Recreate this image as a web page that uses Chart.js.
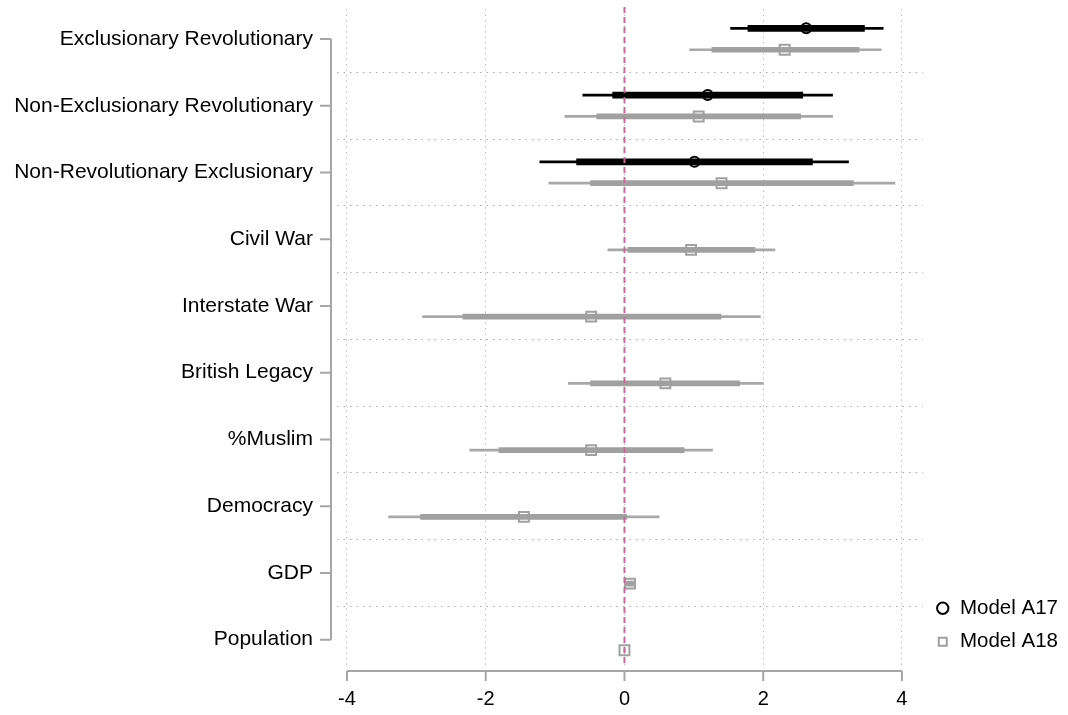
<!DOCTYPE html>
<html>
<head>
<meta charset="utf-8">
<script src="https://cdn.jsdelivr.net/npm/chart.js@4.4.1/dist/chart.umd.min.js"></script>
<style>
  html, body { margin: 0; padding: 0; background: #fff; }
</style>
</head>
<body>
<canvas id="coefChart" width="1068" height="715"></canvas>
<script>
// categories, top to bottom
const categories = ['Exclusionary Revolutionary', 'Non-Exclusionary Revolutionary', 'Non-Revolutionary Exclusionary',
    'Civil War', 'Interstate War', 'British Legacy', '%Muslim', 'Democracy', 'GDP', 'Population'];
const xTicks = [-4, -2, 0, 2, 4];
const refValue = 0;

// Model A17 (only the first three terms)
const coefA17 = [2.62, 1.20, 1.01];
const lo95A17 = [1.53, -0.60, -1.22];
const hi95A17 = [3.73, 3.00, 3.23];
const lo90A17 = [1.78, -0.17, -0.69];
const hi90A17 = [3.46, 2.57, 2.71];

// Model A18
const coefA18 = [2.31, 1.07, 1.40, 0.96, -0.48, 0.59, -0.48, -1.45, 0.08, 0.00];
const lo95A18 = [0.94, -0.86, -1.09, -0.24, -2.91, -0.81, -2.23, -3.40, 0.01, -0.01];
const hi95A18 = [3.70, 3.00, 3.90, 2.17, 1.96, 2.00, 1.27, 0.50, 0.16, 0.01];
const lo90A18 = [1.26, -0.40, -0.49, 0.05, -2.33, -0.49, -1.81, -2.94, 0.03, -0.005];
const hi90A18 = [3.38, 2.54, 3.30, 1.88, 1.39, 1.66, 0.86, 0.03, 0.13, 0.005];

const shift = 0.16; // vertical offset of each model inside a row
const family = "'Liberation Sans', Arial, sans-serif";

const points = (vals, off) => vals.map((v, i) => ({ x: v, y: i + off }));
const ranges = (lo, hi, off) => lo.map((v, i) => ({ x: [v, hi[i]], y: i + off }));

// y ticks: categories at integers, grid lines between them
const yTicks = [];
categories.forEach((c, i) => { yTicks.push(i); if (i < categories.length - 1) yTicks.push(i + 0.5); });

// axis lines only across the data range, plus zero line
const rangeFrame = {
    id: 'rangeFrame',
    afterDatasetsDraw(chart) {
        const { ctx, chartArea, scales: { x, y } } = chart;
        ctx.save();
        const x0 = x.getPixelForValue(refValue);
        ctx.strokeStyle = '#cc6699';
        ctx.lineWidth = 2;
        ctx.setLineDash([6, 4]);
        ctx.beginPath();
        ctx.moveTo(x0, chartArea.top - 2);
        ctx.lineTo(x0, chartArea.bottom);
        ctx.stroke();
        ctx.setLineDash([]);

        ctx.strokeStyle = '#a6a6a6';
        ctx.lineWidth = 2;
        ctx.beginPath();
        const ay = chartArea.bottom + 6;
        ctx.moveTo(x.getPixelForValue(xTicks[0]), ay);
        ctx.lineTo(x.getPixelForValue(xTicks[xTicks.length - 1]), ay);
        xTicks.forEach(v => {
            const px = x.getPixelForValue(v);
            ctx.moveTo(px, ay);
            ctx.lineTo(px, ay + 10);
        });
        const ax = chartArea.left - 6;
        ctx.moveTo(ax, y.getPixelForValue(0));
        ctx.lineTo(ax, y.getPixelForValue(categories.length - 1));
        categories.forEach((c, i) => {
            const py = y.getPixelForValue(i);
            ctx.moveTo(ax, py);
            ctx.lineTo(ax - 11, py);
        });
        ctx.stroke();
        ctx.restore();
    }
};

const noEdgePadding = axis => {
    axis.paddingTop = 0;
    axis.paddingBottom = 0;
    axis.paddingLeft = 0;
    axis.paddingRight = 0;
};

const config = {
    type: 'bar',
    data: {
        datasets: [
            { type: 'scatter', label: 'Model A17', data: points(coefA17, -shift),
              pointStyle: 'circle', pointRadius: 5, pointBorderWidth: 2,
              borderColor: '#000', backgroundColor: 'rgba(0,0,0,0)' },
            { type: 'scatter', label: 'Model A18', data: points(coefA18, shift),
              pointStyle: 'rect', pointRadius: 7, pointBorderWidth: 2,
              borderColor: '#a0a0a0', backgroundColor: 'rgba(0,0,0,0)' },
            { label: '90% A17', data: ranges(lo90A17, hi90A17, -shift), backgroundColor: '#000', barThickness: 6 },
            { label: '90% A18', data: ranges(lo90A18, hi90A18, shift), backgroundColor: '#a0a0a0', barThickness: 5 },
            { label: '95% A17', data: ranges(lo95A17, hi95A17, -shift), backgroundColor: '#000', barThickness: 2 },
            { label: '95% A18', data: ranges(lo95A18, hi95A18, shift), backgroundColor: '#a8a8a8', barThickness: 2 }
        ]
    },
    options: {
        responsive: false,
        animation: false,
        indexAxis: 'y',
        layout: { padding: { top: 7, right: 0, bottom: 0, left: 0 } },
        datasets: { bar: { grouped: false, borderWidth: 0, borderSkipped: false } },
        plugins: {
            tooltip: { enabled: false },
            legend: {
                position: 'right',
                align: 'end',
                fullSize: false,
                labels: {
                    filter: item => item.text.startsWith('Model'),
                    usePointStyle: true,
                    boxWidth: 14,
                    boxHeight: 8,
                    padding: 13,
                    color: '#000',
                    font: { family: family, size: 20.5 }
                }
            }
        },
        scales: {
            x: {
                type: 'linear',
                min: -4.144,
                max: 4.3,
                afterBuildTicks: axis => { axis.ticks = xTicks.map(v => ({ value: v })); },
                afterFit: axis => { axis.height = 50; noEdgePadding(axis); },
                grid: { color: '#bdbdbd', lineWidth: 1, drawTicks: false },
                border: { display: false, dash: [1.5, 4] },
                ticks: { color: '#000', font: { family: family, size: 20 }, padding: 22 }
            },
            y: {
                type: 'linear',
                reverse: true,
                offset: false,
                min: -0.45,
                max: 9.38,
                afterBuildTicks: axis => { axis.ticks = yTicks.map(v => ({ value: v })); },
                afterFit: axis => { axis.width = 337; noEdgePadding(axis); },
                grid: {
                    offset: false,
                    drawTicks: false,
                    lineWidth: 1,
                    color: c => (c.tick && !Number.isInteger(c.tick.value)) ? '#a8a8a8' : 'rgba(0,0,0,0)'
                },
                border: { display: false, dash: [1.5, 5] },
                ticks: {
                    color: '#000',
                    font: { family: family, size: 21 },
                    padding: 24,
                    autoSkip: false,
                    callback: v => Number.isInteger(v) ? categories[v] : ''
                }
            }
        }
    },
    plugins: [rangeFrame]
};

window.onload = function () {
    const ctx = document.getElementById('coefChart').getContext('2d');
    new Chart(ctx, config);
};
</script>
</body>
</html>
